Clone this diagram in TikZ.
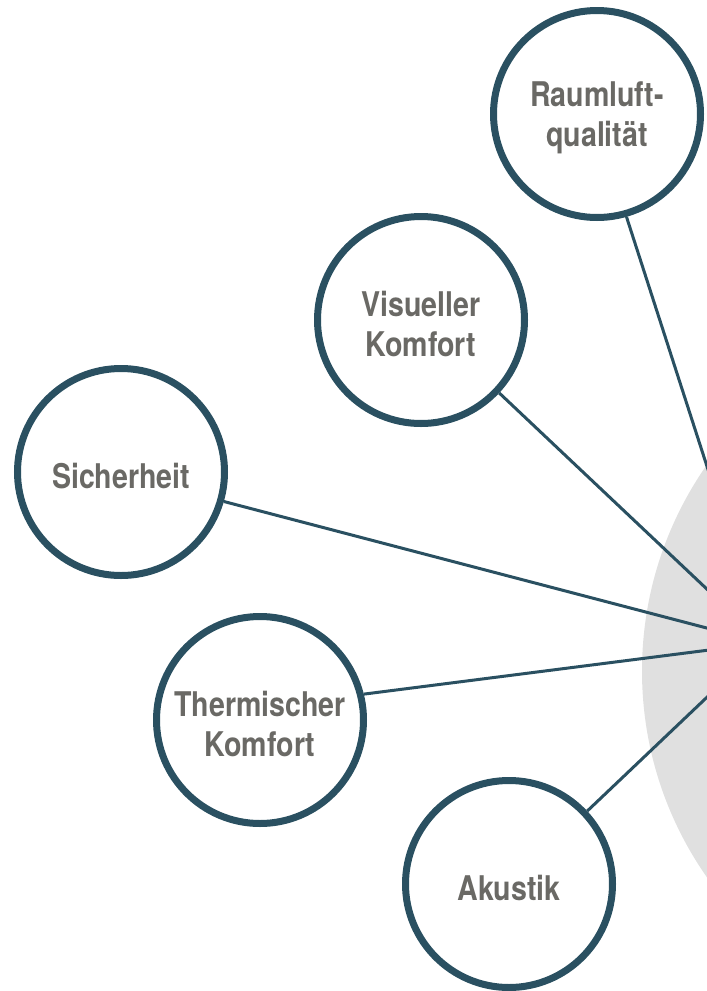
\documentclass[tikz,border=0pt]{standalone}
\usepackage{fontspec}
\setmainfont{TeX Gyre Heros}[FakeStretch=0.84]
\definecolor{ring}{RGB}{42,80,97}
\definecolor{txt}{RGB}{106,105,101}
\definecolor{disc}{RGB}{224,224,224}
\tikzset{
  topic/.style={circle, draw=ring, line width=7pt, fill=white,
    minimum size=207pt, inner sep=0pt},
  lbl/.style={align=center, text=txt, inner sep=0pt, yshift=-4pt,
    font=\bfseries\fontsize{34}{40}\selectfont},
  link/.style={draw=ring, line width=3pt}
}
\begin{document}
\begin{tikzpicture}[x=1pt,y=-1pt]
\useasboundingbox (0,0) rectangle (707,991);
\clip (0,0) rectangle (707,991);
\fill[disc] (1002,671) circle[radius=360pt];
\coordinate (hub) at (764,643);
\node[topic, label={[lbl]center:Raumluft-\\qualität}] (raum) at (597,114) {};
\node[topic, label={[lbl]center:Visueller\\Komfort}] (vis) at (421,320) {};
\node[topic, label={[lbl]center:Sicherheit}] (sich) at (121,472) {};
\node[topic, label={[lbl]center:Thermischer\\Komfort}] (therm) at (260,720) {};
\node[topic, label={[lbl]center:Akustik}] (aku) at (509,884) {};
\draw[link] (hub) -- (raum.-74);
\draw[link] (hub) -- (vis.-43.5);
\draw[link] (hub) -- (sich.-16.6);
\draw[link] (hub) -- (therm.14);
\draw[link] (hub) -- (aku.43);
\end{tikzpicture}
\end{document}
